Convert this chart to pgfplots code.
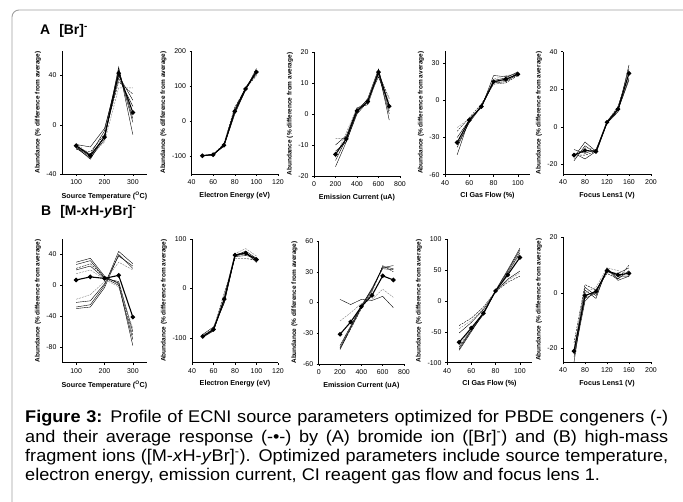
\documentclass[border=0pt]{standalone}
\usepackage{pgfplots}
\usepackage{pgfplotstable}
\pgfplotsset{compat=1.18}
\usepackage{fontspec}
\setmainfont{Liberation Sans}
\newfontfamily\capfont[FakeStretch=1.07]{Liberation Sans}

\pgfplotstableread{
x avg l1 l2 l3 l4 l5 l6 l7
100 -17 -18 -17 -16 -19 -20 -15 -18
150 -25 -26 -24 -18 -27 -22 -25 -28
200 -10 -10 -5 -3 -12 -8 -14 -9
250 42 47 44 40 45 35 30 38
300 10 -8 2 20 5 25 30 15
}\tAa
\pgfplotstableread{
x avg l1 l2 l3 l4 l5
50 -98 -98 -97 -99 -96 -98
60 -95 -94 -96 -93 -95 -97
70 -68 -70 -66 -72 -64 -69
80 28 20 35 25 40 30
90 92 90 95 88 93 96
100 140 150 135 145 130 142
}\tAb
\pgfplotstableread{
x avg l1 l2 l3 l4 l5 l6
200 -13 -17 -15 -10 -8 -12 -14
300 -8 -9 -8 -7 -8 -9 -6
400 1 0 2 1.5 1 0.5 2
500 4 4 3 4.5 4 5 3.5
600 13.5 14 13 12 13 14.5 12.5
700 2.5 -2 0 3 5 1 4
}\tAc
\pgfplotstableread{
x avg l1 l2 l3 l4 l5 l6
50 -34 -44 -38 -30 -22 -25 -36
60 -16 -15 -17 -16 -15 -14 -18
70 -5 -6 -4 -5 -6 -3 -5
80 15 20 16 14 17 13 15
90 17 19 18 15 20 14 16
100 21 22 23 21 21 20 22
}\tAd
\pgfplotstableread{
x avg l1 l2 l3 l4 l5 l6
60 -15 -18 -16 -12 -15 -14 -17
80 -12.5 -10 -8 -14 -15 -17 -11
100 -13 -14 -13 -12 -13 -13 -12
120 2.5 2 3 2 2.5 2 3
140 9.5 8 10 9 11 9 10
160 28.5 33 31 26 29 25 30
}\tAe
\pgfplotstableread{
x avg d1 d2 d3 d4 d5 u1 u2 u3 u4
100 7 30 27 22 20 15 -18 -22 -28 -30
150 11 35 32 28 25 20 -12 -20 -25 -28
200 9 12 10 11 9 8 5 2 0 -3
250 13 2 0 3 5 -2 30 38 44 40
300 -41 -78 -70 -65 -60 -55 20 25 28 22
}\tBa
\pgfplotstableread{
x avg l1 l2 l3 l4 l5 l6
50 -97 -95 -98 -93 -99 -96 -97
60 -83 -80 -85 -78 -86 -82 -84
70 -22 -15 -25 -30 -20 -10 -28
80 67 70 66 65 68 60 64
90 71 80 75 70 72 60 66
100 58 65 60 55 52 57 62
}\tBb
\pgfplotstableread{
x avg s1 s2 s3 s4 f1 f2
200 -31 -46 -44 -42 -45 3 -18
300 -19 -25 -24 -23 -26 -2 -10
400 -4 -5 -4 -3 -6 3 -1
500 7 12 14 13 10 2 3
600 26 35 34 33 36 6 13
700 22 33 36 32 30 -5 5
}\tBc
\pgfplotstableread{
x avg s1 s2 s3 s4 f1 f2 f3
50 -67 -80 -78 -75 -72 -40 -45 -52
60 -44 -50 -48 -47 -45 -28 -32 -35
70 -20 -20 -22 -19 -18 -10 -12 -14
80 16 17 16 15 16 15 16 15
90 42 50 48 45 44 30 33 35
100 70 85 82 78 75 40 45 48
}\tBd
\pgfplotstableread{
x avg l1 l2 l3 l4 l5 l6
60 -21 -25 -18 -22 -20 -23 -21
80 -1 1 3 -2 0 -3 2
100 0.5 -2 1 0 2 1 -1
120 8 9 7 8.5 9 7.5 8
140 6.5 5 5 4.5 8 7 6
160 7 8 10 6 7 9 6
}\tBe

\pgfplotsset{
  panel/.style={scale only axis, anchor=south west, axis lines*=left,
    tick align=outside, major tick length=2bp,
    tick style={black,line width=0.4pt},
    axis line style={black, line width=0.5pt},
    ticklabel style={font=\fontsize{7}{8}\selectfont},
    /pgf/number format/assume math mode=true,
    xlabel style={font=\bfseries\fontsize{7.2}{8}\selectfont, inner sep=4bp},
    ylabel style={font=\bfseries\fontsize{6.5}{7}\selectfont, inner sep=2bp},
    ylabel={Abundance (\% difference from average)},
    xtick pos=left, ytick pos=left},
  ind/.style={black, line width=0.4pt, no marks},
  indd/.style={black, line width=0.4pt, dash pattern=on 2pt off 1pt, no marks},
  indg/.style={gray, line width=0.4pt, dash pattern=on 2pt off 1pt, no marks},
  avg/.style={black, line width=1.1pt, mark=*, mark size=1.7pt, mark options={solid}},
}

\begin{document}
\begin{tikzpicture}
\useasboundingbox (0,0) rectangle (683bp,502bp);
\clip (0,0) rectangle (683bp,502bp);
\draw[gray!75, line width=0.9bp, rounded corners=7bp] (12bp,492bp) rectangle (720bp,-30bp);

\node[anchor=base west, inner sep=0, font=\bfseries\fontsize{14}{16}\selectfont] at (40bp,467bp) {A\hspace{9bp}[Br]\textsuperscript{-}};
\node[anchor=base west, inner sep=0, font=\bfseries\fontsize{14}{16}\selectfont] at (41bp,286.5bp) {B\hspace{9bp}[M-\textit{x}H-\textit{y}Br]\textsuperscript{-}};

% Row A
\begin{axis}[panel, at={(62bp,328bp)}, width=85bp, height=123bp,
  xmin=50, xmax=350, ymin=-40, ymax=60, xtick={100,200,300}, ytick={-40,0,40},
  xlabel={Source Temperature (\textsuperscript{O}C)}]
\pgfplotsinvokeforeach{l1,l2,l3,l4,l7}{\addplot[ind] table[y=#1]{\tAa};}
\addplot[indd] table[y=l5]{\tAa};
\addplot[indg] table[y=l6]{\tAa};
\addplot[avg] table[y=avg]{\tAa};
\end{axis}

\begin{axis}[panel, at={(191.5bp,328bp)}, width=86.5bp, height=123bp,
  xmin=40, xmax=120, ymin=-150, ymax=200, xtick={40,60,80,100,120}, ytick={-100,0,100,200},
  xlabel={Electron Energy (eV)}]
\pgfplotsinvokeforeach{l1,l2,l3,l5}{\addplot[ind] table[y=#1]{\tAb};}
\addplot[indd] table[y=l4]{\tAb};
\addplot[avg] table[y=avg]{\tAb};
\end{axis}

\begin{axis}[panel, at={(314bp,326bp)}, width=86bp, height=124bp,
  xmin=0, xmax=800, ymin=-20, ymax=20, xtick={0,200,400,600,800}, ytick={-20,-10,0,10,20},
  xlabel={Emission Current (uA)}]
\pgfplotsinvokeforeach{l1,l2,l3,l5}{\addplot[ind] table[y=#1]{\tAc};}
\addplot[indd] table[y=l4]{\tAc};
\addplot[indg] table[y=l6]{\tAc};
\addplot[avg] table[y=avg]{\tAc};
\end{axis}

\begin{axis}[panel, at={(445bp,327.3bp)}, width=85bp, height=124bp,
  xmin=40, xmax=110, ymin=-60, ymax=40, xtick={40,60,80,100}, ytick={-60,-30,0,30},
  xlabel={CI Gas Flow (\%)}]
\pgfplotsinvokeforeach{l1,l2,l3,l6}{\addplot[ind] table[y=#1]{\tAd};}
\addplot[indd] table[y=l5]{\tAd};
\addplot[indg] table[y=l4]{\tAd};
\addplot[avg] table[y=avg]{\tAd};
\end{axis}

\begin{axis}[panel, at={(563bp,328bp)}, width=88bp, height=122.3bp,
  xmin=40, xmax=200, ymin=-25, ymax=40, xtick={40,80,120,160,200}, ytick={-20,0,20,40},
  xlabel={Focus Lens1 (V)}]
\pgfplotsinvokeforeach{l1,l2,l3,l5}{\addplot[ind] table[y=#1]{\tAe};}
\addplot[indd] table[y=l4]{\tAe};
\addplot[indg] table[y=l6]{\tAe};
\addplot[avg] table[y=avg]{\tAe};
\end{axis}

% Row B
\begin{axis}[panel, at={(62bp,139.3bp)}, width=85bp, height=123.7bp,
  xmin=50, xmax=350, ymin=-100, ymax=60, xtick={100,200,300}, ytick={-80,-40,0,40},
  xlabel={Source Temperature (\textsuperscript{O}C)}]
\pgfplotsinvokeforeach{d1,d2,d4,u2,u3,u4}{\addplot[ind] table[y=#1]{\tBa};}
\addplot[indd] table[y=d3]{\tBa};
\addplot[indg] table[y=d5]{\tBa};
\addplot[indg] table[y=u1]{\tBa};
\addplot[avg] table[y=avg]{\tBa};
\end{axis}

\begin{axis}[panel, at={(192bp,139.3bp)}, width=86bp, height=124bp,
  xmin=40, xmax=120, ymin=-150, ymax=100, xtick={40,60,80,100,120}, ytick={-100,0,100},
  xlabel={Electron Energy (eV)}]
\pgfplotsinvokeforeach{l2,l3,l4,l6}{\addplot[ind] table[y=#1]{\tBb};}
\addplot[indd] table[y=l5]{\tBb};
\addplot[indg] table[y=l1]{\tBb};
\addplot[avg] table[y=avg]{\tBb};
\end{axis}

\begin{axis}[panel, at={(318.7bp,138bp)}, width=85.3bp, height=123bp,
  xmin=0, xmax=800, ymin=-60, ymax=60, xtick={0,200,400,600,800}, ytick={-60,-30,0,30,60},
  xlabel={Emission Current (uA)}]
\pgfplotsinvokeforeach{s1,s2,s3,f1}{\addplot[ind] table[y=#1]{\tBc};}
\addplot[indd] table[y=s4]{\tBc};
\addplot[indg] table[y=f2]{\tBc};
\addplot[avg] table[y=avg]{\tBc};
\end{axis}

\begin{axis}[panel, at={(447bp,139.3bp)}, width=85bp, height=123.7bp,
  xmin=40, xmax=110, ymin=-100, ymax=100, xtick={40,60,80,100}, ytick={-100,-50,0,50,100},
  xlabel={CI Gas Flow (\%)}]
\pgfplotsinvokeforeach{s1,s2,s3,f3}{\addplot[ind] table[y=#1]{\tBd};}
\addplot[indd] table[y=f1]{\tBd};
\addplot[indg] table[y=s4]{\tBd};
\addplot[indg] table[y=f2]{\tBd};
\addplot[avg] table[y=avg]{\tBd};
\end{axis}

\begin{axis}[panel, at={(563bp,139.7bp)}, width=88bp, height=125bp,
  xmin=40, xmax=200, ymin=-25, ymax=20, xtick={40,80,120,160,200}, ytick={-20,0,20},
  xlabel={Focus Lens1 (V)}]
\pgfplotsinvokeforeach{l1,l3,l5,l6}{\addplot[ind] table[y=#1]{\tBe};}
\addplot[indd] table[y=l2]{\tBe};
\addplot[indg] table[y=l4]{\tBe};
\addplot[avg] table[y=avg]{\tBe};
\end{axis}

\node[anchor=base west, inner sep=0] at (25bp,79bp) {\parbox[t]{643bp}{\capfont\fontsize{17}{19.2}\selectfont
\textbf{Figure 3:} Profile of ECNI source parameters optimized for PBDE congeners (-)\linebreak
and their average response (-\textbullet-) by (A) bromide ion ([Br]\textsuperscript{-}) and (B) high-mass\linebreak
fragment ions ([M-\textit{x}H-\textit{y}Br]\textsuperscript{-}). Optimized parameters include source temperature,\linebreak
electron energy, emission current, CI reagent gas flow and focus lens 1.}};
\end{tikzpicture}
\end{document}
